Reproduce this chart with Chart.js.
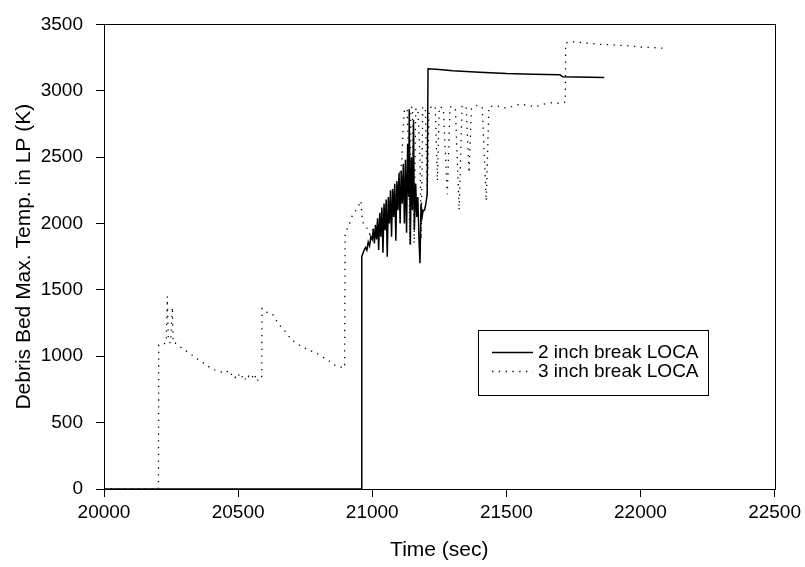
<!DOCTYPE html>
<html>
<head>
<meta charset="utf-8">
<script src="https://cdn.jsdelivr.net/npm/chart.js@4.4.1/dist/chart.umd.min.js"></script>
<style>
  html, body { margin: 0; padding: 0; background: #fff; }
  canvas { display: block; }
</style>
</head>
<body>
<canvas id="chart" width="805" height="567"></canvas>
<script>
// Datos
const seriesNames = ["2 inch break LOCA", "3 inch break LOCA"];
const xTicks = [20000, 20500, 21000, 21500, 22000, 22500];
const yTicks = [0, 500, 1000, 1500, 2000, 2500, 3000, 3500];

// 2 inch break LOCA
const time2in = [20000, 20960, 20961, 20968, 20975, 20980, 20985, 20990, 20995, 21000,
  21004, 21008, 21012, 21016, 21020, 21024, 21028, 21032, 21036, 21040,
  21044, 21048, 21052, 21056, 21060, 21064, 21068, 21072, 21076, 21080,
  21084, 21088, 21092, 21096, 21100, 21104, 21108, 21112, 21116, 21120,
  21124, 21128, 21132, 21136, 21138, 21142, 21146, 21150, 21154, 21157,
  21162, 21166, 21170, 21174, 21178, 21182, 21186, 21190, 21195, 21200,
  21205, 21208, 21250, 21300, 21400, 21500, 21600, 21700, 21710, 21865];
const temp2in = [0, 0, 1750, 1790, 1820, 1800, 1860, 1830, 1900, 1880,
  1960, 1850, 1990, 1880, 2040, 1800, 2080, 1900, 2120, 1780,
  2150, 1950, 2180, 1750, 2200, 2000, 2250, 1900, 2260, 2050,
  2300, 1870, 2320, 2100, 2380, 2000, 2400, 2150, 2450, 2000,
  2480, 1930, 2600, 2200, 2860, 1840, 2500, 2100, 2780, 1950,
  2300, 2050, 2200, 1900, 1700, 2150, 2050, 2100, 2100, 2150,
  2220, 3165, 3160, 3150, 3140, 3130, 3125, 3120, 3105, 3100];

// 3 inch break LOCA
const time3in = [20000, 20203, 20204, 20215, 20225, 20232, 20236, 20240, 20248, 20255,
  20258, 20265, 20277, 20295, 20313, 20335, 20354, 20370, 20382, 20395,
  20406, 20420, 20438, 20450, 20460, 20470, 20481, 20490, 20500, 20510,
  20520, 20530, 20540, 20550, 20560, 20570, 20580, 20588, 20589, 20596,
  20611, 20630, 20645, 20660, 20676, 20698, 20715, 20735, 20760, 20791,
  20815, 20841, 20866, 20897, 20899, 20910, 20927, 20946, 20958, 20963,
  20975, 20990, 21000, 21010, 21020, 21030, 21040, 21050, 21060, 21070,
  21080, 21090, 21100, 21110, 21115, 21120, 21125, 21130, 21136, 21140,
  21144, 21150, 21156, 21162, 21170, 21178, 21183, 21188, 21198, 21205,
  21212, 21225, 21235, 21243, 21250, 21265, 21280, 21290, 21310, 21324,
  21335, 21350, 21361, 21370, 21390, 21410, 21425, 21435, 21460, 21490,
  21520, 21550, 21580, 21610, 21640, 21670, 21700, 21720, 21721, 21740,
  21770, 21800, 21850, 21900, 21950, 22000, 22050, 22094];
const temp3in = [0, 0, 1085, 1095, 1095, 1100, 1450, 1110, 1100, 1370,
  1100, 1100, 1080, 1055, 1030, 1000, 970, 950, 933, 915,
  903, 890, 880, 870, 885, 855, 873, 840, 870, 830,
  860, 815, 850, 830, 870, 810, 840, 836, 1360, 1360,
  1323, 1313, 1261, 1220, 1187, 1127, 1100, 1075, 1050, 1025,
  995, 963, 925, 913, 1933, 1970, 2067, 2120, 2172, 2010,
  1990, 1920, 1960, 1930, 2010, 1980, 2080, 2030, 2150, 2100,
  2250, 2200, 2350, 2450, 2700, 2850, 2870, 2860, 2500, 1840,
  2870, 2880, 1850, 2860, 2870, 2500, 1880, 2870, 2880, 2200,
  2860, 2890, 2880, 2320, 2880, 2870, 2220, 2880, 2870, 2100,
  2890, 2880, 2380, 2870, 2890, 2880, 2170, 2880, 2890, 2870,
  2880, 2900, 2890, 2880, 2900, 2910, 2905, 2915, 3360, 3370,
  3365, 3360, 3350, 3345, 3340, 3330, 3325, 3320];

const toPoints = (xs, ys) => xs.map((x, i) => ({ x: x, y: ys[i] }));

const FONT = "'Liberation Sans', Arial, Helvetica, sans-serif";

// Marco completo alrededor del área del gráfico
const framePlugin = {
  id: 'frame',
  afterDatasetsDraw(chart) {
    const { ctx, chartArea: a } = chart;
    ctx.save();
    ctx.strokeStyle = '#000';
    ctx.lineWidth = 1;
    ctx.strokeRect(Math.round(a.left) + 0.5, Math.round(a.top) + 0.5,
      Math.round(a.right - a.left), Math.round(a.bottom - a.top));
    ctx.restore();
  }
};

// Leyenda con caja, dentro del área
const boxLegend = {
  id: 'boxLegend',
  afterDraw(chart) {
    const { ctx } = chart;
    const bx = 478, by = 330, bw = 230, bh = 65;
    ctx.save();
    ctx.strokeStyle = '#000';
    ctx.lineWidth = 1;
    ctx.fillStyle = '#fff';
    ctx.fillRect(bx, by, bw, bh);
    ctx.strokeRect(bx + 0.5, by + 0.5, bw, bh);
    ctx.font = '19px ' + FONT;
    ctx.textBaseline = 'middle';
    chart.data.datasets.forEach((ds, i) => {
      const y = 352 + i * 18.5;
      ctx.beginPath();
      ctx.setLineDash(ds.borderDash || []);
      ctx.lineWidth = ds.borderWidth;
      ctx.strokeStyle = ds.borderColor;
      ctx.moveTo(492, Math.round(y) + 0.5);
      ctx.lineTo(533, Math.round(y) + 0.5);
      ctx.stroke();
      ctx.setLineDash([]);
      ctx.fillStyle = '#000';
      ctx.fillText(ds.label, 538, y + 1);
    });
    ctx.restore();
  }
};

const config = {
  type: 'line',
  data: {
    datasets: [{
      label: seriesNames[0],
      data: toPoints(time2in, temp2in),
      borderColor: '#000',
      borderWidth: 1.5,
      pointRadius: 0,
      tension: 0
    }, {
      label: seriesNames[1],
      data: toPoints(time3in, temp3in),
      borderColor: '#000',
      borderWidth: 1.3,
      borderDash: [1.3, 5.5],
      pointRadius: 0,
      tension: 0
    }]
  },
  options: {
    responsive: false,
    animation: false,
    devicePixelRatio: 1,
    layout: { padding: { top: 19, right: 29, left: 0, bottom: 0 } },
    plugins: {
      legend: { display: false },
      tooltip: { enabled: false }
    },
    scales: {
      x: {
        type: 'linear',
        min: 20000,
        max: 22500,
        afterBuildTicks: s => { s.ticks = xTicks.map(v => ({ value: v })); },
        afterFit: s => { s.height = 78; },
        grid: { drawOnChartArea: false, tickLength: 8, color: '#000' },
        border: { color: '#000', width: 1 },
        ticks: {
          color: '#000',
          font: { family: FONT, size: 19 },
          padding: 4,
          maxRotation: 0,
          callback: v => String(v)
        },
        title: {
          display: true,
          text: 'Time (sec)',
          color: '#000',
          font: { family: FONT, size: 21 },
          padding: { top: 0, bottom: 4 }
        }
      },
      y: {
        min: 0,
        max: 3500,
        afterBuildTicks: s => { s.ticks = yTicks.map(v => ({ value: v })); },
        afterFit: s => { s.width = 104; },
        grid: { drawOnChartArea: false, tickLength: 8, color: '#000' },
        border: { color: '#000', width: 1 },
        ticks: {
          color: '#000',
          font: { family: FONT, size: 19 },
          padding: 13,
          callback: v => String(v)
        },
        title: {
          display: true,
          text: 'Debris Bed Max. Temp. in LP (K)',
          color: '#000',
          font: { family: FONT, size: 21 },
          padding: { top: 12, bottom: 0 }
        }
      }
    }
  },
  plugins: [framePlugin, boxLegend]
};

new Chart(document.getElementById('chart').getContext('2d'), config);
</script>
</body>
</html>
